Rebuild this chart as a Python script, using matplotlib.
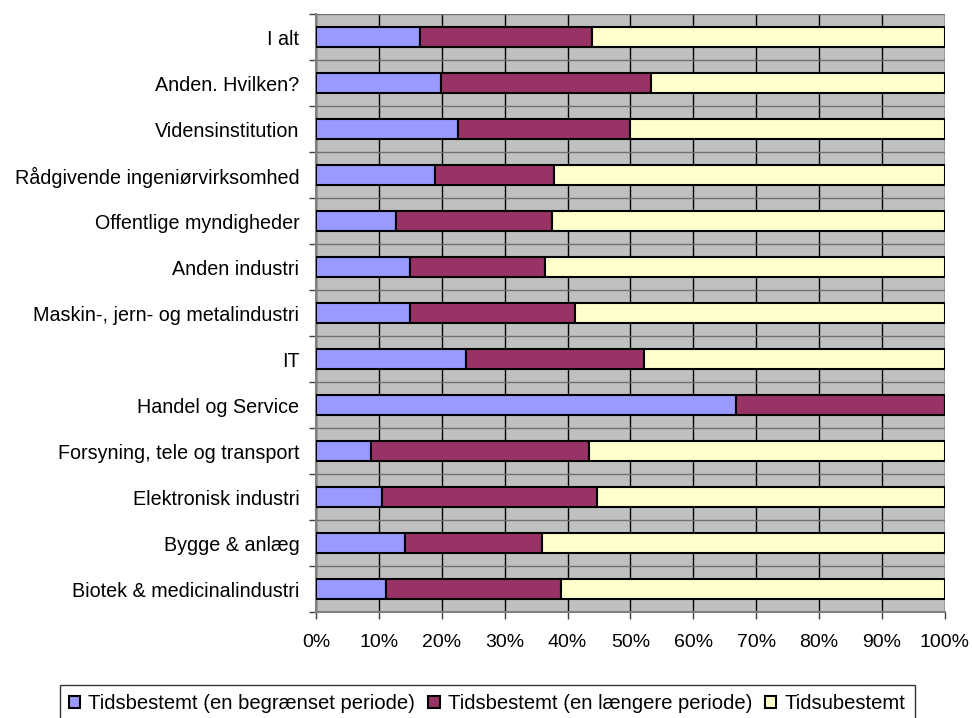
import numpy as np
import matplotlib.pyplot as plt
from matplotlib.ticker import MultipleLocator, PercentFormatter

plt.rcParams['font.family'] = ['Liberation Sans', 'DejaVu Sans']

# --- data (bottom to top) ---
categories = [
    'Biotek & medicinalindustri',
    'Bygge & anlæg',
    'Elektronisk industri',
    'Forsyning, tele og transport',
    'Handel og Service',
    'IT',
    'Maskin-, jern- og metalindustri',
    'Anden industri',
    'Offentlige myndigheder',
    'Rådgivende ingeniørvirksomhed',
    'Vidensinstitution',
    'Anden. Hvilken?',
    'I alt',
]
kort = [11.1, 14.2, 10.5, 8.7, 66.7, 23.8, 15.0, 15.0, 12.7, 18.9, 22.5, 19.9, 16.5]
laengere = [27.8, 21.7, 34.1, 34.7, 33.3, 28.3, 26.2, 21.4, 24.9, 19.0, 27.4, 33.4, 27.4]
ubestemt = [100 - a - b for a, b in zip(kort, laengere)]

series = ['Tidsbestemt (en begrænset periode)', 'Tidsbestemt (en længere periode)', 'Tidsubestemt']
colors = ['#9999FF', '#993366', '#FFFFCC']

# --- figure ---
fig = plt.figure(figsize=(9.72, 7.18), dpi=100)
ax = fig.add_axes([0.3251, 0.1476, 0.6471, 0.8329])
ax.set_facecolor('#C0C0C0')

y = np.arange(len(categories))
left = np.zeros(len(categories))
for vals, col, name in zip([kort, laengere, ubestemt], colors, series):
    ax.barh(y, vals, left=left, height=0.42, color=col, edgecolor='black',
            linewidth=1.5, label=name, zorder=3)
    left += np.array(vals)

ax.set_xlim(0, 100)
ax.set_ylim(-0.5, len(categories) - 0.5)
ax.xaxis.set_major_locator(MultipleLocator(10))
ax.xaxis.set_major_formatter(PercentFormatter(decimals=0))
ax.set_yticks(y)
ax.set_yticklabels(categories)
ax.set_yticks(np.arange(-0.5, len(categories)), minor=True)

ax.tick_params(axis='y', which='major', length=0, pad=12, labelsize=14.2)
ax.tick_params(axis='y', which='minor', length=5, width=1, color='#404040')
ax.tick_params(axis='x', length=5, width=1, color='#404040', pad=11, labelsize=14)

ax.grid(axis='x', color='black', linewidth=1, zorder=1)
ax.grid(axis='y', which='minor', color='#707070', linewidth=1, zorder=1)
ax.set_axisbelow(True)

for s in ['top', 'right']:
    ax.spines[s].set_visible(False)
for s in ['left', 'bottom']:
    ax.spines[s].set_color('#808080')
    ax.spines[s].set_linewidth(1.5)

leg = fig.legend(loc='upper left', bbox_to_anchor=(0.0617, 0.046), ncol=3,
                 fontsize=14.6, frameon=True, fancybox=False, handlelength=0.55,
                 handleheight=0.55, handletextpad=0.4, columnspacing=0.65,
                 borderpad=0.45, borderaxespad=0)
leg.get_frame().set_edgecolor('black')
leg.get_frame().set_linewidth(1)

plt.savefig('out.png', dpi=100)
